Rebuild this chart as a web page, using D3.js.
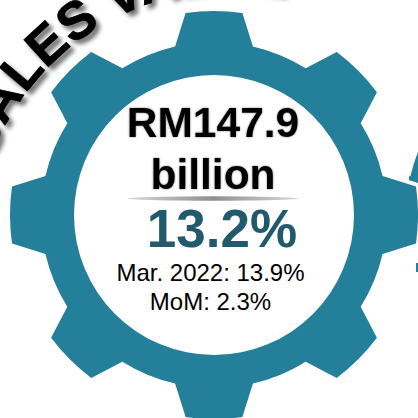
<!DOCTYPE html>
<html>
<head>
<meta charset="utf-8">
<script src="https://cdn.jsdelivr.net/npm/d3@7"></script>
<style>
    html, body { margin: 0; padding: 0; background: #fff; }
    svg { display: block; }
    text { font-family: "Liberation Sans", Arial, sans-serif; }
</style>
</head>
<body>
<div id="vizcontainer"></div>
<script>
var titleText = 'SALES VALUE';
var valueLines = ['RM147.9', 'billion'];
var growthText = '13.2%';
var noteLines = ['Mar. 2022: 13.9%', 'MoM: 2.3%'];
var toothIndex = d3.range(8);

var width = 418,
    height = 418,
    cx = 214,
    cy = 215,
    gearColor = '#237f9a',
    growthColor = '#205a6c';

var svg = d3.select('#vizcontainer').append('svg')
    .attr('width', width)
    .attr('height', height);

var defs = svg.append('defs');

// Shadow behind the arched title
var titleShadow = defs.append('filter').attr('id', 'title-shadow')
    .attr('x', '-10%').attr('y', '-10%').attr('width', '120%').attr('height', '130%');
titleShadow.append('feDropShadow')
    .attr('dx', 4).attr('dy', 4).attr('stdDeviation', 2.2)
    .attr('flood-color', '#000').attr('flood-opacity', 0.55);

var valueShadow = defs.append('filter').attr('id', 'value-shadow');
valueShadow.append('feDropShadow')
    .attr('dx', 0).attr('dy', 0).attr('stdDeviation', 0.8)
    .attr('flood-color', '#000').attr('flood-opacity', 0.45);

var ruleGradient = defs.append('linearGradient').attr('id', 'rule-gradient');
ruleGradient.append('stop').attr('offset', '0%').attr('stop-color', '#d8d8d8');
ruleGradient.append('stop').attr('offset', '50%').attr('stop-color', '#8f8f8f');
ruleGradient.append('stop').attr('offset', '100%').attr('stop-color', '#d8d8d8');

// Only two slivers of the neighbouring gear show at the right edge
var sideClip = defs.append('clipPath').attr('id', 'side-clip');
sideClip.append('rect').attr('x', 409).attr('y', 140).attr('width', 9).attr('height', 50);
sideClip.append('rect').attr('x', 416).attr('y', 263).attr('width', 2).attr('height', 9);

/**
 * Outline of a gear centred on 0,0, with an optional hole.
 */
function gearPath(rootR, tipR, rootHalf, tipHalf, holeR) {
    var angle = d3.scaleLinear().domain([0, toothIndex.length]).range([-Math.PI / 2, 1.5 * Math.PI]);
    var p = d3.path();
    toothIndex.forEach(function(i) {
        var a = angle(i);
        if (i === 0) {
            p.moveTo(rootR * Math.cos(a - rootHalf), rootR * Math.sin(a - rootHalf));
        }
        p.lineTo(tipR * Math.cos(a - tipHalf), tipR * Math.sin(a - tipHalf));
        p.arc(0, 0, tipR, a - tipHalf, a + tipHalf);
        p.lineTo(rootR * Math.cos(a + rootHalf), rootR * Math.sin(a + rootHalf));
        p.arc(0, 0, rootR, a + rootHalf, angle(i + 1) - rootHalf);
    });
    p.closePath();
    if (holeR) {
        p.moveTo(holeR, 0);
        p.arc(0, 0, holeR, 0, 2 * Math.PI);
        p.closePath();
    }
    return p.toString();
}

var rad = Math.PI / 180;

// Neighbouring gear
svg.append('g')
    .attr('clip-path', 'url(#side-clip)')
    .append('path')
    .attr('transform', 'translate(579,215)')
    .attr('d', gearPath(173, 204, 13 * rad, 8 * rad, 140))
    .attr('fill', gearColor)
    .attr('fill-rule', 'evenodd');

// Main gear, the white stroke cuts it free from the neighbour
svg.append('path')
    .attr('transform', 'translate(' + cx + ',' + cy + ')')
    .attr('d', gearPath(173, 204, 13 * rad, 8 * rad, 140))
    .attr('fill', gearColor)
    .attr('fill-rule', 'evenodd')
    .attr('stroke', '#fff')
    .attr('stroke-width', 8)
    .attr('paint-order', 'stroke');

// Arched title, runs off the top edge like the reference
var titleArc = d3.path();
titleArc.arc(232, 247, 257, Math.PI, 2 * Math.PI);
defs.append('path').attr('id', 'title-arc').attr('d', titleArc.toString());

svg.append('text')
    .attr('filter', 'url(#title-shadow)')
    .attr('font-size', 53)
    .attr('font-weight', 'bold')
    .attr('fill', '#000')
    .attr('stroke', '#000')
    .attr('stroke-width', 0.8)
    .append('textPath')
    .attr('href', '#title-arc')
    .attr('startOffset', 90)
    .text(titleText);

// Headline value
svg.selectAll('.value-line')
    .data(valueLines)
    .enter().append('text')
    .attr('class', 'value-line')
    .attr('x', 213)
    .attr('y', function(d, i) { return 137 + i * 52; })
    .attr('text-anchor', 'middle')
    .attr('font-size', 42.5)
    .attr('font-weight', 'bold')
    .attr('fill', '#000')
    .attr('filter', 'url(#value-shadow)')
    .text(function(d) { return d; });

// Lens shaped rule under the value
svg.append('ellipse')
    .attr('cx', 213)
    .attr('cy', 198.5)
    .attr('rx', 86)
    .attr('ry', 2.2)
    .attr('fill', 'url(#rule-gradient)');

svg.append('text')
    .attr('x', 222)
    .attr('y', 247)
    .attr('text-anchor', 'middle')
    .attr('font-size', 53)
    .attr('font-weight', 'bold')
    .attr('fill', growthColor)
    .text(growthText);

svg.selectAll('.note-line')
    .data(noteLines)
    .enter().append('text')
    .attr('class', 'note-line')
    .attr('x', 210.5)
    .attr('y', function(d, i) { return 281 + i * 29; })
    .attr('text-anchor', 'middle')
    .attr('font-size', 24)
    .attr('fill', '#000')
    .text(function(d) { return d; });
</script>
</body>
</html>
